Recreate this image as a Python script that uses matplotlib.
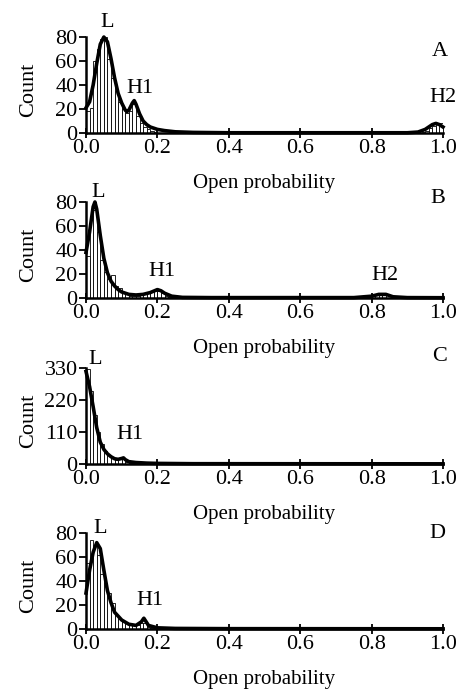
import matplotlib
matplotlib.use("Agg")
import matplotlib.pyplot as plt
import numpy as np

plt.rcParams.update({
    "font.family": "Liberation Serif",
    "font.size": 16,
    "axes.linewidth": 1.8,
})

BIN_W = 0.01

# ── Histogram counts (bin left edges / counts) ───────────────────────────────
a_edges = [0.00, 0.01, 0.02, 0.03, 0.04, 0.05, 0.06, 0.07, 0.08, 0.09,
           0.10, 0.11, 0.12, 0.13, 0.14, 0.15, 0.16, 0.17, 0.18, 0.19,
           0.94, 0.95, 0.96, 0.97, 0.98, 0.99]
a_counts = [18, 21, 60, 70, 78, 80, 62, 46, 35, 26,
            20, 17, 18, 24, 14, 8, 5, 3, 2, 1,
            1, 2, 4, 6, 8, 8]

b_edges = [0.00, 0.01, 0.02, 0.03, 0.04, 0.05, 0.06, 0.07, 0.08, 0.09,
           0.10, 0.11, 0.12, 0.13, 0.14, 0.15, 0.16, 0.17, 0.18, 0.19,
           0.20, 0.21, 0.22, 0.23, 0.81, 0.82, 0.83]
b_counts = [35, 68, 73, 55, 32, 22, 16, 19, 10, 8,
            5, 3, 2, 2, 2, 3, 3, 4, 5, 6,
            6, 4, 2, 1, 3, 4, 3]

c_edges = [0.00, 0.01, 0.02, 0.03, 0.04, 0.05, 0.06, 0.07, 0.08, 0.09,
           0.10, 0.11, 0.12, 0.13, 0.14, 0.15, 0.16, 0.17]
c_counts = [325, 250, 170, 110, 70, 45, 30, 20, 15, 18,
            20, 8, 5, 4, 3, 3, 2, 2]

d_edges = [0.00, 0.01, 0.02, 0.03, 0.04, 0.05, 0.06, 0.07, 0.08, 0.09,
           0.10, 0.11, 0.12, 0.13, 0.14, 0.15, 0.16, 0.17, 0.18, 0.19]
d_counts = [55, 74, 70, 62, 46, 38, 30, 22, 12, 8,
            6, 5, 4, 3, 3, 5, 5, 2, 1, 1]

# ── Fitted curves ────────────────────────────────────────────────────────────
a_cx = [0.0, 0.01, 0.02, 0.03, 0.04, 0.05, 0.06, 0.07, 0.08, 0.09, 0.10,
        0.11, 0.115, 0.12, 0.13, 0.135, 0.14, 0.15, 0.16, 0.17, 0.18, 0.20,
        0.22, 0.25, 0.30, 0.40, 0.90, 0.93, 0.95, 0.97, 0.98, 0.99, 1.00]
a_cy = [21, 26, 40, 58, 74, 80, 76, 62, 46, 33, 25,
        19, 18, 19, 25, 27, 24, 16, 10, 7, 5, 3,
        2, 1, 0.5, 0.2, 0.2, 0.8, 3, 7, 8, 7, 5]

b_cx = [0.0, 0.01, 0.02, 0.025, 0.03, 0.04, 0.05, 0.06, 0.07, 0.08, 0.09,
        0.10, 0.12, 0.14, 0.16, 0.18, 0.20, 0.21, 0.22, 0.24, 0.27, 0.35,
        0.75, 0.80, 0.82, 0.84, 0.86, 0.90, 1.00]
b_cy = [38, 55, 76, 80, 74, 52, 33, 21, 14, 10, 7,
        5, 3, 2.5, 3, 4.5, 7, 6, 4, 1.5, 0.5, 0.3,
        0.3, 1.5, 3, 3, 1, 0.3, 0.2]

c_cx = [0.0, 0.01, 0.02, 0.03, 0.04, 0.05, 0.06, 0.07, 0.08, 0.09, 0.10,
        0.105, 0.11, 0.12, 0.14, 0.17, 0.20, 0.30, 1.00]
c_cy = [318, 266, 197, 125, 75, 50, 35, 25, 18, 16, 19,
        21, 15, 8, 5, 3, 2, 1, 0.5]

d_cx = [0.0, 0.01, 0.02, 0.03, 0.04, 0.05, 0.06, 0.07, 0.08, 0.10, 0.12,
        0.14, 0.155, 0.162, 0.175, 0.20, 0.25, 0.40, 1.00]
d_cy = [30, 49, 64, 72, 67, 49, 32, 22, 14, 7.5, 4,
        3, 6, 9, 3, 1, 0.5, 0.3, 0.2]

panels = [
    dict(edges=a_edges, counts=a_counts, cx=a_cx, cy=a_cy, ymax=80,
         yticks=[0, 20, 40, 60, 80], tag="A",
         notes=[("L", 0.058, 92), ("H1", 0.151, 37), ("H2", 1.0, 30), ("A", 0.99, 68)]),
    dict(edges=b_edges, counts=b_counts, cx=b_cx, cy=b_cy, ymax=80,
         yticks=[0, 20, 40, 60, 80], tag="B",
         notes=[("L", 0.035, 88), ("H1", 0.212, 22), ("H2", 0.838, 19), ("B", 0.986, 83)]),
    dict(edges=c_edges, counts=c_counts, cx=c_cx, cy=c_cy, ymax=330,
         yticks=[0, 110, 220, 330], tag="C",
         notes=[("L", 0.025, 358), ("H1", 0.123, 100), ("C", 0.99, 368)]),
    dict(edges=d_edges, counts=d_counts, cx=d_cx, cy=d_cy, ymax=80,
         yticks=[0, 20, 40, 60, 80], tag="D",
         notes=[("L", 0.039, 84), ("H1", 0.18, 24), ("D", 0.983, 80)]),
]

fig = plt.figure(figsize=(4.58, 6.92), dpi=100)
bottoms = [0.8078, 0.5694, 0.3295, 0.0910]
left, width, height = 0.1878, 0.7795, 0.1387

for p, b in zip(panels, bottoms):
    ax = fig.add_axes([left, b, width, height])
    ax.bar(p["edges"], p["counts"], width=BIN_W, align="edge",
           color="white", edgecolor="black", linewidth=0.6, zorder=2)
    ax.plot(p["cx"], p["cy"], color="black", lw=2.6, zorder=3, clip_on=False,
            solid_joinstyle="round")
    ax.set_xlim(0, 1.0)
    ax.set_ylim(0, p["ymax"])
    ax.set_xticks([0.0, 0.2, 0.4, 0.6, 0.8, 1.0])
    ax.set_xticklabels(["0.0", "0.2", "0.4", "0.6", "0.8", "1.0"])
    ax.set_yticks(p["yticks"])
    ax.spines["top"].set_visible(False)
    ax.spines["right"].set_visible(False)
    ax.tick_params(axis="x", direction="inout", length=7, width=1.3, pad=1)
    ax.tick_params(axis="y", direction="out", length=5, width=1.3, pad=1)
    ax.set_xlabel("Open probability", fontsize=15)
    ax.xaxis.set_label_coords(0.5, -0.43)
    ax.set_ylabel("Count", fontsize=16)
    ax.yaxis.set_label_coords(-0.135, 0.45)
    for txt, x, y in p["notes"]:
        ax.text(x, y, txt, ha="center", va="center", fontsize=16, clip_on=False)

plt.savefig("out.png", dpi=100)
